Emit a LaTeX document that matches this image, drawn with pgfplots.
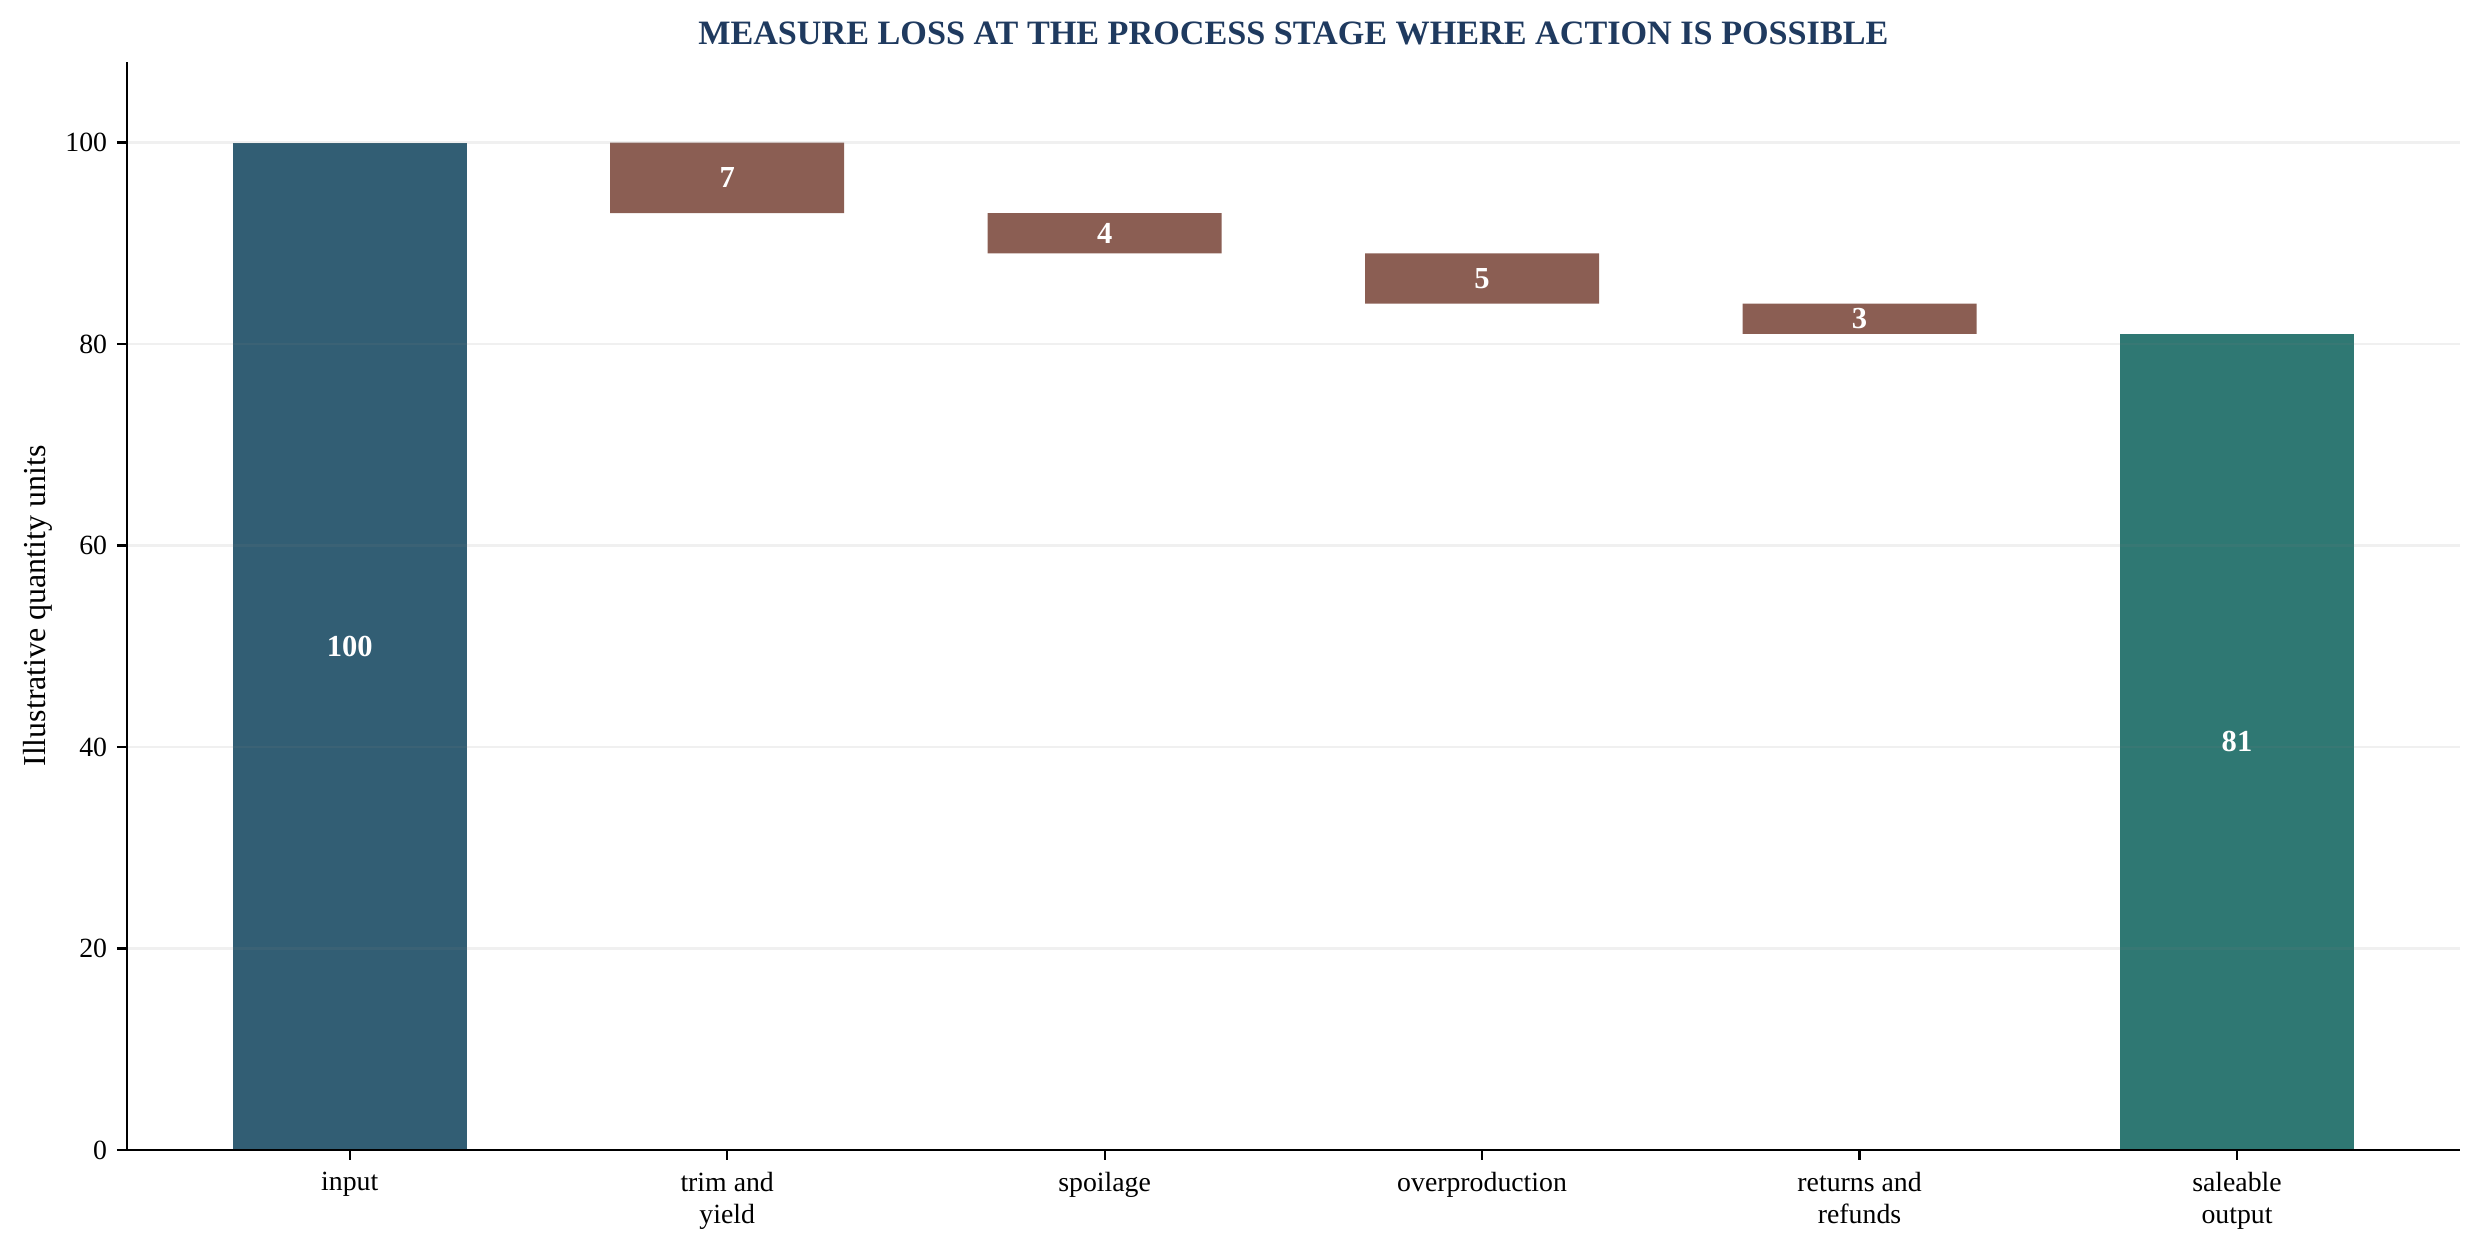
\documentclass[border=0pt]{standalone}
\usepackage{fontspec}
\setmainfont{Liberation Serif}
\usepackage{pgfplots}
\pgfplotsset{compat=1.18}
\definecolor{inputc}{HTML}{325E74}
\definecolor{lossc}{HTML}{8B5E53}
\definecolor{outc}{HTML}{2F7873}
\definecolor{titlec}{HTML}{1F3A5F}
\begin{document}
\begin{tikzpicture}
\useasboundingbox (-45.6pt,-37.4pt) rectangle (847.9pt,414.0pt);
\begin{axis}[
  at={(0,0)}, anchor=south west,
  scale only axis, width=840pt, height=391.7pt,
  xmin=-0.591, xmax=5.591, ymin=0, ymax=108,
  ybar stacked, bar width=0.62,
  axis lines=left, axis line style={-, line width=0.8pt, black},
  axis on top,
  tick align=outside, major tick length=3.5pt,
  tick style={line width=0.8pt, black},
  xtick={0,1,2,3,4,5},
  xticklabels={input, {trim and\\yield}, spoilage, overproduction, {returns and\\refunds}, {saleable\\output}},
  xticklabel style={align=center, font=\fontsize{10}{11.5}\selectfont, yshift=-1pt},
  ytick={0,20,40,60,80,100},
  yticklabel style={font=\fontsize{10}{12}\selectfont},
  /pgf/number format/assume math mode=true,
  ymajorgrids, grid style={line width=0.8pt, color=gray, opacity=0.12},
  ylabel={Illustrative quantity units},
  ylabel style={font=\fontsize{11.5}{13}\selectfont, at={(axis description cs:-0.038,0.5)}, anchor=center},
  every axis title shift=0pt,
  title={MEASURE LOSS AT THE PROCESS STAGE WHERE ACTION IS POSSIBLE},
  title style={font=\bfseries\fontsize{12.3}{14}\selectfont, text=titlec, at={(axis description cs:0.5,1)}, anchor=base, yshift=6.1pt},
]
\addplot[fill=none, draw=none] coordinates {(0,0) (1,93) (2,89) (3,84) (4,81) (5,0)};
\addplot[fill=inputc, draw=none] coordinates {(0,100) (1,0) (2,0) (3,0) (4,0) (5,0)};
\addplot[fill=lossc, draw=none] coordinates {(0,0) (1,7) (2,4) (3,5) (4,3) (5,0)};
\addplot[fill=outc, draw=none] coordinates {(0,0) (1,0) (2,0) (3,0) (4,0) (5,81)};
\end{axis}
\begin{axis}[
  at={(0,0)}, anchor=south west,
  scale only axis, width=840pt, height=391.7pt,
  xmin=-0.591, xmax=5.591, ymin=0, ymax=108,
  hide axis,
]
\addplot[draw=none, mark=none, nodes near coords, point meta=explicit symbolic,
  every node near coord/.append style={anchor=center, inner sep=0pt, font=\bfseries\fontsize{11}{13}\selectfont, text=white}]
  coordinates {(0,50)[100] (1,96.5)[7] (2,91)[4] (3,86.5)[5] (4,82.5)[3] (5,40.5)[81]};
\end{axis}
\end{tikzpicture}
\end{document}
